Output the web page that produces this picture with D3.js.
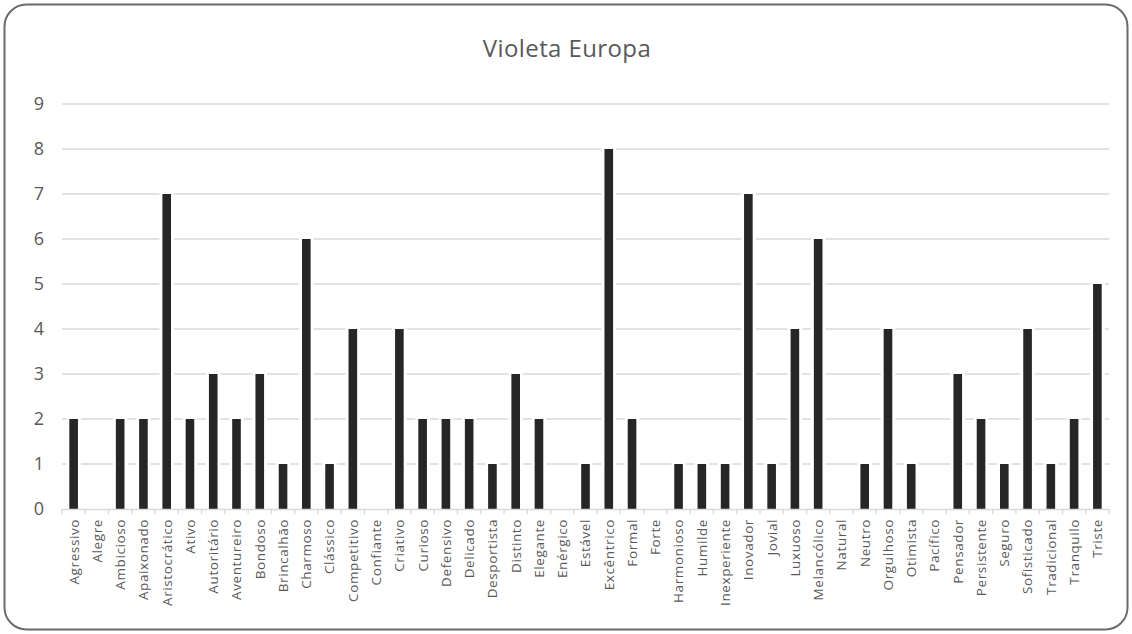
<!DOCTYPE html>
<html><head><meta charset="utf-8">
<script src="https://cdn.jsdelivr.net/npm/d3@7"></script>
<style>body{margin:0;background:#fff}svg{display:block}</style>
</head><body>
<script>
const categories = ["Agressivo","Alegre","Ambicioso","Apaixonado","Aristocrático","Ativo","Autoritário","Aventureiro","Bondoso","Brincalhão","Charmoso","Clássico","Competitivo","Confiante","Criativo","Curioso","Defensivo","Delicado","Desportista","Distinto","Elegante","Enérgico","Estável","Excêntrico","Formal","Forte","Harmonioso","Humilde","Inexperiente","Inovador","Jovial","Luxuoso","Melancólico","Natural","Neutro","Orgulhoso","Otimista","Pacífico","Pensador","Persistente","Seguro","Sofisticado","Tradicional","Tranquilo","Triste"];
const values = [2,0,2,2,7,2,3,2,3,1,6,1,4,0,4,2,2,2,1,3,2,0,1,8,2,0,1,1,1,7,1,4,6,0,1,4,1,0,3,2,1,4,1,2,5];
const yTicks = [0,1,2,3,4,5,6,7,8,9];
const title = "Violeta Europa";

(function(){
const W = 1132, H = 634;
const svg = d3.select("body").append("svg").attr("width", W).attr("height", H);
svg.append("rect").attr("x",4.5).attr("y",4.5).attr("width",W-9).attr("height",H-9)
  .attr("rx",22).attr("ry",22).attr("fill","#fff").attr("stroke","#6b6b6b").attr("stroke-width",2);

const mLeft = 62, mRight = 1109, mTop = 104, mBottom = 509;
const x = d3.scaleBand().domain(categories).range([mLeft, mRight]).paddingInner(0.63).paddingOuter(0.315);
const y = d3.scaleLinear().domain([0, 9]).range([mBottom, mTop]);
const font = "'Open Sans', 'Noto Sans', sans-serif";

svg.append("text").attr("x", 567).attr("y", 57).attr("text-anchor","middle")
  .attr("font-family", font).attr("font-size", 24).attr("letter-spacing", 0.4)
  .attr("fill","#595959").text(title);

svg.append("g").selectAll("line").data(yTicks.filter(d=>d>0)).join("line")
  .attr("x1", mLeft).attr("x2", mRight).attr("y1", d=>y(d)).attr("y2", d=>y(d))
  .attr("stroke","#d9d9d9").attr("stroke-width",1.5);

svg.append("g").selectAll("text").data(yTicks).join("text")
  .attr("x", 44).attr("y", d=>y(d)).attr("dy","0.36em").attr("text-anchor","end")
  .attr("font-family", font).attr("font-size", 18).attr("fill","#595959").text(d=>d);

// white halo around bars (gap in gridlines as in reference)
svg.append("g").selectAll("rect").data(categories.filter((d,i)=>values[i]>0)).join("rect")
  .attr("x", d=>x(d)-3).attr("width", x.bandwidth()+6)
  .attr("y", d=>y(values[categories.indexOf(d)])-3)
  .attr("height", d=>y(0)-y(values[categories.indexOf(d)])+3)
  .attr("fill","#fff");

svg.append("g").selectAll("rect").data(categories).join("rect")
  .attr("x", d=>x(d)).attr("width", x.bandwidth())
  .attr("y", (d,i)=>y(values[i])).attr("height", (d,i)=>y(0)-y(values[i]))
  .attr("fill","#262626");

const xa = svg.append("g").attr("transform",`translate(0,${mBottom})`)
  .call(d3.axisBottom(x).tickSize(0).tickFormat(""));
xa.select(".domain").attr("stroke","#d9d9d9").attr("stroke-width",1.6);
const bounds = d3.range(categories.length+1).map(i=>mLeft + i*(mRight-mLeft)/categories.length);
svg.append("g").selectAll("line").data(bounds).join("line")
  .attr("x1",d=>d).attr("x2",d=>d).attr("y1",mBottom).attr("y2",mBottom+5)
  .attr("stroke","#d9d9d9").attr("stroke-width",1.3);

svg.append("g").selectAll("text").data(categories).join("text")
  .attr("transform", d=>`translate(${x(d)+x.bandwidth()/2},${mBottom+10}) rotate(-90)`)
  .attr("text-anchor","end").attr("dy","0.36em")
  .attr("font-family", font).attr("font-size", 13.5).attr("letter-spacing", 0.6)
  .attr("fill","#595959").text(d=>d);
})();
</script>
</body></html>
